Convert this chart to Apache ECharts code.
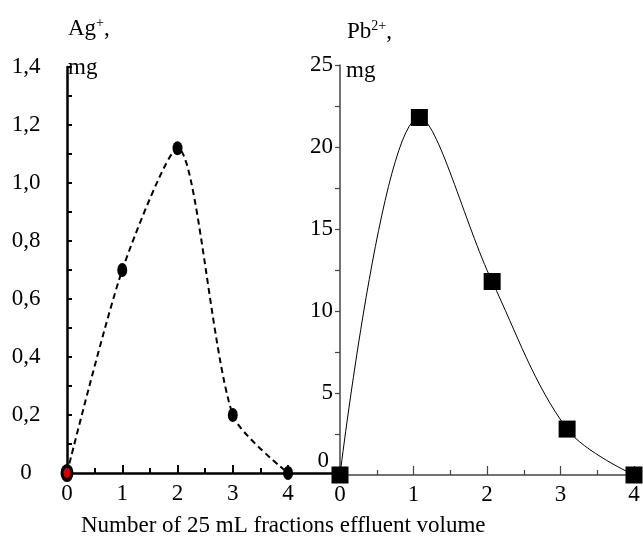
<!DOCTYPE html>
<html>
<head>
<meta charset="utf-8">
<script src="https://cdn.jsdelivr.net/npm/echarts@6/dist/echarts.min.js"></script>
<style>
  html, body { margin: 0; padding: 0; background: #fff; }
  #chart { width: 643px; height: 539px; }
</style>
</head>
<body>
<div id="chart"></div>
<script>
// fractions (x) and amounts, mg
const agX = [0, 1, 2, 3, 4];
const agY = [0, 0.7, 1.12, 0.2, 0];
const pbX = [0, 1.08, 2.07, 3.09, 4];
const pbY = [0, 21.8, 11.8, 2.8, 0];

const xLabels = [0, 1, 2, 3, 4];
const xHalfTicks = [0.5, 1.5, 2.5, 3.5];
const agLabels = [0, 0.2, 0.4, 0.6, 0.8, 1.0, 1.2, 1.4];
const agTicks = [0, 0.1, 0.2, 0.3, 0.4, 0.5, 0.6, 0.7, 0.8, 0.9, 1.0, 1.1, 1.2, 1.3, 1.4];
const pbLabels = [0, 5, 10, 15, 20, 25];
const pbTicks = [0, 2.5, 5, 7.5, 10, 12.5, 15, 17.5, 20, 22.5, 25];

const font = "'Liberation Serif', 'Times New Roman', serif";
const txt = { fontFamily: font, fontSize: 23, color: '#000' };

const chart = echarts.init(document.getElementById('chart'));

const agData = agX.map((x, i) => {
    const p = { value: [x, agY[i]] };
    if (i === 0) p.itemStyle = { color: '#d00000', borderColor: '#000', borderWidth: 3.5 };
    return p;
});

// second x axis per grid just for the short half-step ticks
function halfAxis(grid, max, color) {
    return {
        gridIndex: grid,
        type: 'value',
        position: 'bottom',
        min: 0,
        max: max,
        splitLine: { show: false },
        axisLine: { show: false },
        axisLabel: { show: false },
        axisTick: { inside: true, length: 5, customValues: xHalfTicks, lineStyle: { color: color, width: grid === 0 ? 2 : 1.2 } }
    };
}

const option = {
    animation: false,
    grid: [
        { left: 67, top: 67, right: 303, bottom: 66 },
        { left: 340, top: 65, right: 9, bottom: 64 }
    ],
    xAxis: [
        {
            gridIndex: 0,
            type: 'value',
            min: 0,
            max: 4.94,
            splitLine: { show: false },
            axisLine: { lineStyle: { color: '#000', width: 2.5 } },
            axisTick: { inside: true, length: 8, customValues: xLabels, lineStyle: { color: '#000', width: 2 } },
            axisLabel: Object.assign({ margin: 9, customValues: xLabels }, txt)
        },
        {
            gridIndex: 1,
            type: 'value',
            min: 0,
            max: 4,
            splitLine: { show: false },
            axisLine: { lineStyle: { color: '#444', width: 1.5 } },
            axisTick: { inside: true, length: 9, customValues: xLabels, lineStyle: { color: '#444', width: 1.2 } },
            axisLabel: Object.assign({ margin: 8, customValues: xLabels }, txt)
        },
        halfAxis(0, 4.94, '#000'),
        halfAxis(1, 4, '#444')
    ],
    yAxis: [
        {
            gridIndex: 0,
            type: 'value',
            min: 0,
            max: 1.4,
            splitLine: { show: false },
            axisLine: { show: true, lineStyle: { color: '#000', width: 2.5 } },
            axisTick: { show: true, inside: true, length: 5, customValues: agTicks, lineStyle: { color: '#000', width: 2 } },
            axisLabel: Object.assign({
                customValues: agLabels,
                align: 'center',
                margin: 41,
                formatter: v => v === 0 ? '0' : v.toFixed(1).replace('.', ',')
            }, txt)
        },
        {
            gridIndex: 1,
            type: 'value',
            min: 0,
            max: 25,
            splitLine: { show: false },
            axisLine: { show: true, lineStyle: { color: '#444', width: 1.5 } },
            axisTick: { show: true, length: 5, customValues: pbTicks, lineStyle: { color: '#444', width: 1.2 } },
            axisLabel: Object.assign({
                customValues: pbLabels,
                margin: 7,
                formatter: v => v === 0 ? '{z|0}' : String(v),
                rich: { z: { fontFamily: font, fontSize: 23, color: '#000', padding: [0, 4, 28, 0] } }
            }, txt)
        }
    ],
    graphic: [
        { type: 'text', left: 68, top: 16, style: { text: '{b|Ag}{s|+}{b|,}', rich: { b: { fontFamily: font, fontSize: 23, fill: '#000' }, s: { fontFamily: font, fontSize: 14, fill: '#000', verticalAlign: 'top', padding: [0, 0, 12, 0] } } } },
        { type: 'text', left: 68, top: 56, style: { text: 'mg', fontFamily: font, fontSize: 23, fill: '#000' } },
        { type: 'text', left: 347, top: 19, style: { text: '{b|Pb}{s|2+}{b|,}', rich: { b: { fontFamily: font, fontSize: 23, fill: '#000' }, s: { fontFamily: font, fontSize: 14, fill: '#000', verticalAlign: 'top', padding: [0, 0, 12, 0] } } } },
        { type: 'text', left: 346, top: 59, style: { text: 'mg', fontFamily: font, fontSize: 23, fill: '#000' } },
        { type: 'text', left: 81, top: 514, style: { text: 'Number of 25 mL fractions effluent volume', fontFamily: font, fontSize: 23, fill: '#000' } }
    ],
    series: [
        {
            type: 'line',
            xAxisIndex: 0,
            yAxisIndex: 0,
            data: agData,
            smooth: 0.25,
            clip: false,
            symbol: 'circle',
            symbolSize: [10, 14],
            itemStyle: { color: '#000' },
            lineStyle: { color: '#000', width: 2, type: [6, 4] }
        },
        {
            type: 'line',
            xAxisIndex: 1,
            yAxisIndex: 1,
            data: pbX.map((x, i) => [x, pbY[i]]),
            smooth: 0.35,
            clip: false,
            symbol: 'rect',
            symbolSize: 17,
            itemStyle: { color: '#000' },
            lineStyle: { color: '#000', width: 1 }
        }
    ]
};
chart.setOption(option);
</script>
</body>
</html>
